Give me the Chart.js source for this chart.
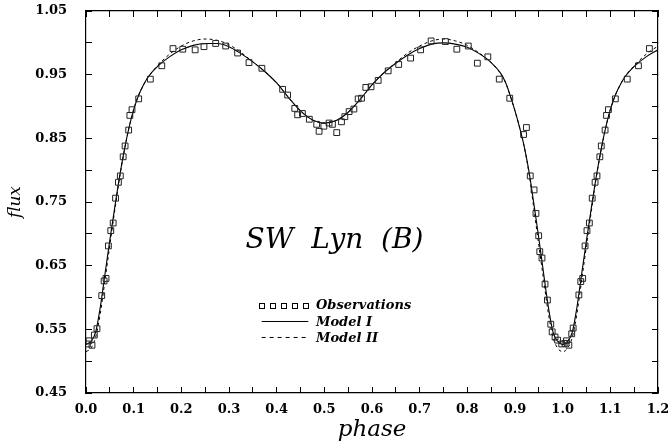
<!DOCTYPE html>
<html><head><meta charset="utf-8">
<script src="https://cdn.jsdelivr.net/npm/chart.js@4.4.1/dist/chart.umd.min.js"></script>
<style>html,body{margin:0;padding:0;background:#fff}</style>
</head><body>
<canvas id="c" width="668" height="444"></canvas>
<script>
// ---- data ----
const obsPhase = [0.003,0.0063,0.0126,0.0175,0.023,0.033,0.038,0.042,0.047,0.052,0.057,0.062,0.068,0.072,0.078,0.082,0.0895,0.092,0.0965,0.1105,0.135,0.159,0.1825,0.203,0.229,0.2475,0.272,0.293,0.318,0.342,0.369,0.4125,0.423,0.438,0.444,0.454,0.4685,0.484,0.489,0.499,0.510,0.517,0.526,0.536,0.543,0.552,0.562,0.571,0.578,0.587,0.598,0.613,0.634,0.656,0.681,0.702,0.724,0.754,0.778,0.802,0.821,0.843,0.867,0.889,0.918,0.924,0.932,0.940,0.944,0.9497,0.952,0.9566,0.963,0.968,0.975,0.978,0.984,0.9895,0.998,1.005,1.008,1.013,1.019,1.022,1.034,1.038,1.042,1.047,1.051,1.056,1.062,1.068,1.072,1.078,1.081,1.089,1.092,1.096,1.1105,1.1355,1.159,1.182];
const obsFlux = [0.527,0.532,0.525,0.541,0.551,0.603,0.626,0.630,0.681,0.705,0.717,0.756,0.781,0.791,0.821,0.838,0.863,0.886,0.895,0.912,0.943,0.964,0.991,0.990,0.989,0.994,0.999,0.995,0.984,0.969,0.960,0.927,0.918,0.897,0.887,0.889,0.880,0.872,0.861,0.869,0.874,0.872,0.859,0.876,0.884,0.892,0.896,0.912,0.913,0.930,0.931,0.941,0.956,0.966,0.976,0.989,1.003,1.002,0.990,0.995,0.968,0.978,0.943,0.913,0.856,0.867,0.791,0.769,0.732,0.697,0.672,0.662,0.621,0.596,0.558,0.546,0.538,0.533,0.527,0.528,0.532,0.525,0.543,0.552,0.604,0.625,0.630,0.681,0.705,0.717,0.756,0.781,0.791,0.821,0.838,0.863,0.886,0.895,0.912,0.943,0.964,0.991];

const modelPhase = [0,0.01,0.02,0.03,0.04,0.05,0.06,0.07,0.08,0.09,0.10,0.11,0.12,0.13,0.15,0.175,0.20,0.225,0.25,0.275,0.30,0.325,0.35,0.375,0.40,0.425,0.45,0.475,0.50,0.525,0.55,0.575,0.60,0.625,0.65,0.675,0.70,0.725,0.75,0.775,0.80,0.825,0.85,0.87,0.88,0.89,0.90,0.91,0.92,0.93,0.94,0.95,0.96,0.97,0.98,0.99,1.00,1.01,1.02,1.03,1.04,1.05,1.06,1.07,1.08,1.09,1.10,1.11,1.12,1.13,1.15,1.175,1.20];
const model1Flux = [0.526,0.531,0.545,0.585,0.638,0.690,0.740,0.788,0.830,0.866,0.895,0.917,0.933,0.946,0.963,0.978,0.989,0.996,0.999,0.999,0.994,0.983,0.970,0.955,0.937,0.914,0.893,0.879,0.874,0.878,0.891,0.911,0.934,0.953,0.968,0.981,0.991,0.998,1.000,0.998,0.993,0.983,0.969,0.952,0.938,0.917,0.893,0.866,0.835,0.795,0.745,0.693,0.638,0.585,0.545,0.531,0.526,0.531,0.545,0.585,0.638,0.690,0.740,0.788,0.830,0.866,0.895,0.917,0.933,0.946,0.963,0.978,0.989];
const model2Flux = [0.515,0.520,0.537,0.575,0.628,0.682,0.735,0.786,0.829,0.866,0.895,0.917,0.933,0.946,0.964,0.982,0.995,1.003,1.006,1.004,0.997,0.985,0.970,0.955,0.937,0.914,0.893,0.879,0.874,0.878,0.891,0.911,0.934,0.953,0.969,0.984,0.995,1.003,1.006,1.003,0.996,0.984,0.969,0.952,0.938,0.917,0.893,0.866,0.834,0.792,0.737,0.682,0.628,0.575,0.537,0.520,0.515,0.520,0.537,0.575,0.628,0.682,0.735,0.786,0.829,0.866,0.895,0.917,0.933,0.946,0.964,0.982,0.995];

const xTickLabels = ['0.0','0.1','0.2','0.3','0.4','0.5','0.6','0.7','0.8','0.9','1.0','1.1','1.2'];
const yTickLabels = ['0.45','0.55','0.65','0.75','0.85','0.95','1.05'];
const seriesNames = ['Observations','Model I','Model II'];
const plotTitle = 'SW  Lyn  (B)';

// ---- chart ----
const tickFont = {family:'DejaVu Serif', weight:'bold', size:13};
const gridOpts = {drawOnChartArea:false, drawTicks:true, tickLength:-6, color:'#000', lineWidth:1};
const borderOpts = {display:true, color:'#000', width:1.2};

const toXY = (xs, ys) => xs.map((x,i)=>({x:x, y:ys[i]}));
const fixSize = (prop, val) => s => {
  s[prop] = val;
  s.paddingLeft = 0; s.paddingRight = 0; s.paddingTop = 0; s.paddingBottom = 0;
};

const overlay = {
  id:'overlay',
  afterDatasetsDraw(chart){
    const ctx = chart.ctx, xs = chart.scales.x, ys = chart.scales.y;
    ctx.save();
    ctx.fillStyle = '#000'; ctx.strokeStyle = '#000';
    // title inside the plot
    ctx.font = 'italic 28px "DejaVu Serif"';
    ctx.textAlign = 'center'; ctx.textBaseline = 'alphabetic';
    ctx.fillText(plotTitle, xs.getPixelForValue(0.5213), ys.getPixelForValue(0.6778));
    // legend
    const sq0 = xs.getPixelForValue(0.3692), sq1 = xs.getPixelForValue(0.4605);
    const ln0 = xs.getPixelForValue(0.3685), ln1 = xs.getPixelForValue(0.4663);
    const tx = xs.getPixelForValue(0.4825);
    const rows = [0.5882, 0.5623, 0.5372].map(v=>ys.getPixelForValue(v));
    ctx.font = 'italic bold 13px "DejaVu Serif"';
    ctx.textAlign = 'left'; ctx.textBaseline = 'middle';
    ctx.lineWidth = 1;
    for (let i=0;i<5;i++){
      const cx = sq0 + i*(sq1-sq0)/4;
      ctx.strokeRect(Math.round(cx-2.5)+0.5, Math.round(rows[0]-2.5)+0.5, 5, 5);
    }
    ctx.fillText(seriesNames[0], tx, rows[0]+1);
    ctx.beginPath(); ctx.moveTo(ln0, rows[1]); ctx.lineTo(ln1, rows[1]); ctx.stroke();
    ctx.fillText(seriesNames[1], tx, rows[1]+1);
    ctx.setLineDash([4,4]);
    ctx.beginPath(); ctx.moveTo(ln0, rows[2]); ctx.lineTo(ln1, rows[2]); ctx.stroke();
    ctx.setLineDash([]);
    ctx.fillText(seriesNames[2], tx, rows[2]+1);
    ctx.restore();
  }
};

new Chart(document.getElementById('c'), {
  type:'scatter',
  data:{
    datasets:[
      {label:seriesNames[0], data:toXY(obsPhase, obsFlux), showLine:false,
       pointStyle:'rect', pointRadius:4.1, pointBorderWidth:1, pointBorderColor:'#222',
       pointBackgroundColor:'rgba(0,0,0,0)', pointHoverRadius:4.1},
      {label:seriesNames[1], data:toXY(modelPhase, model1Flux), showLine:true,
       borderColor:'#000', borderWidth:1.1, pointRadius:0, cubicInterpolationMode:'monotone', fill:false},
      {label:seriesNames[2], data:toXY(modelPhase, model2Flux), showLine:true,
       borderColor:'#000', borderWidth:1, borderDash:[3,3], pointRadius:0, cubicInterpolationMode:'monotone', fill:false}
    ]
  },
  options:{
    responsive:false, animation:false, devicePixelRatio:1,
    layout:{padding:0},
    plugins:{legend:{display:false}, tooltip:{enabled:false}},
    scales:{
      x:{type:'linear', position:'bottom', min:0, max:1.2,
         ticks:{stepSize:0.05, autoSkip:false, maxRotation:0, padding:15, color:'#000', font:tickFont,
                callback:(v,i)=> i%2===0 ? xTickLabels[i/2] : ''},
         grid:gridOpts, border:borderOpts,
         title:{display:true, text:'phase', color:'#000', padding:{top:0,bottom:0},
                font:{family:'DejaVu Serif', style:'italic', size:23}},
         afterFit:fixSize('height',51)},
      x2:{type:'linear', position:'top', min:0, max:1.2,
         ticks:{display:false, stepSize:0.05, autoSkip:false},
         grid:gridOpts, border:borderOpts, afterFit:fixSize('height',11)},
      y:{type:'linear', position:'left', min:0.45, max:1.05,
         ticks:{stepSize:0.05, autoSkip:false, padding:25, color:'#000', font:tickFont,
                callback:(v,i)=> i%2===0 ? yTickLabels[i/2] : ''},
         grid:gridOpts, border:borderOpts,
         title:{display:true, text:'flux', color:'#000', padding:{top:5,bottom:0},
                font:{family:'DejaVu Serif', style:'italic', size:17}},
         afterFit:fixSize('width',86)},
      y2:{type:'linear', position:'right', min:0.45, max:1.05,
         ticks:{display:false, stepSize:0.05, autoSkip:false},
         grid:gridOpts, border:borderOpts, afterFit:fixSize('width',10)}
    }
  },
  plugins:[overlay]
});
</script>
</body></html>
